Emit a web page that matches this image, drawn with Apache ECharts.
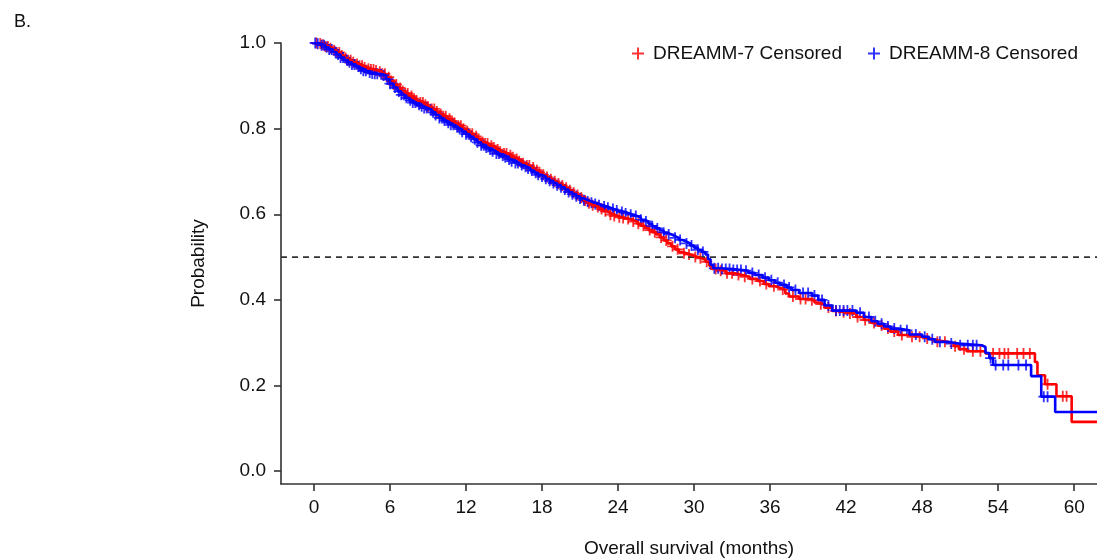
<!DOCTYPE html>
<html>
<head>
<meta charset="utf-8">
<script src="https://cdn.jsdelivr.net/npm/echarts@6/dist/echarts.min.js"></script>
<style>html,body{margin:0;padding:0;background:#fff}#c{width:1097px;height:560px}</style>
</head>
<body>
<div id="c"></div>
<script>
// Kaplan-Meier step points [month, survival]
var kmD7 = [
[0,1.0],[0.3,0.999],[0.6,0.996],[0.9,0.992],[1.2,0.988],[1.5,0.983],[1.8,0.978],[2.1,0.971],[2.4,0.965],[2.7,0.96],
[3.0,0.955],[3.3,0.951],[3.6,0.947],[3.9,0.943],[4.2,0.94],[4.5,0.938],[4.8,0.936],[5.1,0.933],[5.4,0.928],[5.7,0.92],
[6.0,0.911],[6.3,0.903],[6.6,0.895],[6.9,0.888],[7.2,0.882],[7.5,0.876],[7.8,0.870],[8.1,0.865],[8.4,0.861],[8.7,0.856],
[9.0,0.851],[9.3,0.846],[9.6,0.84],[9.9,0.834],[10.2,0.829],[10.5,0.823],[10.8,0.818],[11.1,0.813],[11.4,0.807],[11.7,0.80],
[12.0,0.794],[12.3,0.788],[12.6,0.782],[12.9,0.776],[13.2,0.769],[13.5,0.765],[13.8,0.76],[14.1,0.756],[14.4,0.751],[14.7,0.746],
[15.0,0.742],[15.3,0.738],[15.6,0.733],[15.9,0.729],[16.2,0.724],[16.5,0.719],[16.8,0.714],[17.1,0.709],[17.4,0.703],[17.7,0.698],
[18.0,0.692],[18.3,0.687],[18.6,0.682],[18.9,0.677],[19.2,0.672],[19.5,0.667],[19.8,0.662],[20.1,0.656],[20.4,0.65],[20.7,0.645],
[21.0,0.639],[21.3,0.632],[21.6,0.626],[21.9,0.621],[22.2,0.617],[22.5,0.612],[22.8,0.607],[23.1,0.603],[23.4,0.599],[23.7,0.596],
[24.0,0.593],[24.3,0.591],[24.6,0.589],[24.9,0.586],[25.2,0.583],[25.5,0.578],[25.8,0.573],[26.1,0.568],[26.4,0.563],[26.7,0.558],
[27.0,0.553],[27.3,0.546],[27.6,0.539],[27.9,0.532],[28.2,0.525],[28.5,0.518],[28.8,0.512],[29.1,0.509],[29.4,0.506],[29.7,0.503],
[30.0,0.50],[30.3,0.497],[30.6,0.494],[30.9,0.489],[31.2,0.48],[31.4,0.472],[31.8,0.468],[32.5,0.462],[33.2,0.458],[33.8,0.454],
[34.4,0.449],[35.0,0.444],[35.5,0.437],[35.9,0.432],[36.4,0.428],[36.8,0.424],[37.2,0.415],[37.5,0.408],[38.3,0.402],[39.2,0.399],
[39.5,0.394],[39.8,0.39],[40.3,0.382],[40.9,0.374],[41.4,0.371],[42.0,0.368],[42.8,0.36],[43.4,0.353],[44.0,0.346],[44.5,0.34],
[45.0,0.333],[45.5,0.326],[46.1,0.318],[47.0,0.314],[48.0,0.31],[48.6,0.306],[49.0,0.302],[50.0,0.298],[50.5,0.292],[50.9,0.285],
[51.5,0.28],[53.0,0.275],[56.9,0.255],[57.1,0.224],[57.7,0.203],[58.6,0.175],[59.8,0.115],[61.8,0.115]
];
var kmD8 = [
[0,1.0],[0.3,0.998],[0.6,0.995],[0.9,0.99],[1.2,0.985],[1.5,0.979],[1.8,0.973],[2.1,0.966],[2.4,0.96],[2.7,0.955],
[3.0,0.95],[3.3,0.945],[3.6,0.94],[3.9,0.935],[4.2,0.931],[4.5,0.929],[4.8,0.928],[5.1,0.927],[5.4,0.924],[5.7,0.915],
[6.0,0.905],[6.3,0.896],[6.6,0.887],[6.9,0.879],[7.2,0.872],[7.5,0.866],[7.8,0.861],[8.1,0.856],[8.4,0.852],[8.7,0.848],
[9.0,0.844],[9.3,0.838],[9.6,0.832],[9.9,0.825],[10.2,0.819],[10.5,0.814],[10.8,0.809],[11.1,0.804],[11.4,0.799],[11.7,0.793],
[12.0,0.787],[12.3,0.781],[12.6,0.775],[12.9,0.768],[13.2,0.761],[13.5,0.756],[13.8,0.751],[14.1,0.747],[14.4,0.742],[14.7,0.737],
[15.0,0.733],[15.3,0.728],[15.6,0.724],[15.9,0.72],[16.2,0.715],[16.5,0.711],[16.8,0.707],[17.1,0.702],[17.4,0.697],[17.7,0.692],
[18.0,0.688],[18.3,0.683],[18.6,0.678],[18.9,0.673],[19.2,0.668],[19.5,0.663],[19.8,0.658],[20.1,0.652],[20.4,0.647],[20.7,0.642],
[21.0,0.637],[21.3,0.633],[21.6,0.63],[21.9,0.627],[22.2,0.624],[22.5,0.621],[22.8,0.618],[23.1,0.615],[23.4,0.612],[23.7,0.609],
[24.0,0.607],[24.3,0.605],[24.6,0.602],[24.9,0.599],[25.2,0.596],[25.5,0.592],[25.8,0.587],[26.1,0.583],[26.4,0.578],[26.7,0.572],
[27.0,0.567],[27.3,0.562],[27.6,0.557],[27.9,0.553],[28.2,0.549],[28.5,0.545],[28.8,0.54],[29.1,0.536],[29.4,0.532],[29.7,0.527],
[30.0,0.522],[30.3,0.517],[30.6,0.512],[30.9,0.506],[31.1,0.495],[31.3,0.482],[31.5,0.474],[32.0,0.472],[33.0,0.470],[33.8,0.468],
[34.3,0.463],[34.8,0.458],[35.4,0.452],[35.9,0.446],[36.4,0.440],[36.8,0.435],[37.3,0.429],[37.7,0.423],[38.3,0.416],[39.3,0.41],
[39.8,0.40],[40.3,0.387],[40.9,0.375],[42.8,0.37],[43.4,0.36],[44.0,0.35],[44.5,0.344],[45.0,0.338],[45.5,0.333],[46.1,0.329],
[47.0,0.319],[48.0,0.314],[48.5,0.308],[49.0,0.302],[50.0,0.298],[50.9,0.294],[52.7,0.29],[53.0,0.276],[53.3,0.264],[53.6,0.248],
[56.6,0.222],[57.4,0.174],[58.5,0.138],[61.8,0.138]
];
// censoring times (months)
var censD7 = [0.2,0.5,0.7,0.9,1.1,1.3,1.6,1.8,2.0,2.2,2.5,2.7,2.9,3.1,3.4,3.6,3.8,4.0,4.3,4.5,4.7,4.9,5.2,5.4,5.6,5.9,6.1,6.3,6.5,6.8,
7.0,7.2,7.4,7.7,7.9,8.1,8.4,8.6,8.8,9.0,9.3,9.5,9.7,10.0,10.2,10.4,10.7,10.9,11.1,11.4,11.6,11.8,12.1,12.3,12.5,12.8,13.0,13.3,13.5,13.7,
14.0,14.2,14.5,14.7,15.0,15.2,15.5,15.7,16.0,16.2,16.5,16.8,17.0,17.3,17.6,17.8,18.1,18.4,18.7,19.0,19.3,19.6,19.9,20.2,20.5,20.8,21.1,21.4,21.7,22.0,
22.4,22.7,23.0,23.4,23.7,24.1,24.4,24.8,25.2,25.6,26.0,26.5,26.9,27.4,27.8,28.3,28.7,29.2,29.6,30.1,30.5,31.0,31.7,32.1,32.6,33.0,33.5,34.0,34.6,35.2,
35.7,36.3,37.0,37.8,38.4,38.8,39.3,40.0,40.6,41.2,41.8,42.3,42.9,43.5,44.2,44.8,45.3,45.8,46.4,47.2,47.8,48.4,49.2,49.8,50.6,51.3,52.0,52.6,53.6,54.1,
54.5,54.8,55.5,56.0,56.5,57.9,59.1,59.4];
var censD8 = [0.1,0.3,0.6,0.8,1.0,1.2,1.4,1.7,1.9,2.1,2.3,2.6,2.8,3.0,3.2,3.5,3.7,3.9,4.1,4.4,4.6,4.8,5.0,5.3,5.5,5.8,6.0,6.2,6.4,6.7,
6.9,7.1,7.3,7.6,7.8,8.0,8.3,8.5,8.7,8.9,9.2,9.4,9.6,9.9,10.1,10.3,10.6,10.8,11.0,11.3,11.5,11.7,12.0,12.2,12.4,12.7,12.9,13.2,13.4,13.6,
13.9,14.1,14.4,14.6,14.9,15.1,15.4,15.6,15.9,16.1,16.4,16.7,16.9,17.2,17.5,17.7,18.0,18.3,18.6,18.9,19.2,19.5,19.8,20.1,20.4,20.7,21.0,21.3,21.6,21.9,
22.2,22.5,22.9,23.2,23.6,23.9,24.3,24.6,25.0,25.4,25.8,26.2,26.7,27.1,27.6,28.0,28.5,28.9,29.4,29.8,30.3,30.7,31.6,31.9,32.2,32.5,32.8,33.1,33.4,33.7,
34.1,34.6,35.1,35.6,36.1,36.6,37.1,37.5,38.0,38.6,39.0,39.5,40.1,40.6,41.2,41.5,41.8,42.1,42.5,43.1,43.8,44.3,44.8,45.3,45.8,46.3,46.8,47.5,48.2,48.8,
49.4,50.3,51.0,51.6,52.0,52.3,53.4,53.8,54.4,54.8,55.6,56.2,57.6,57.9];
var medianLine = [[-2.6,0.5],[61.8,0.5]];
var xTicks = [0,6,12,18,24,30,36,42,48,54,60];
var yTicks = [0,0.2,0.4,0.6,0.8,1.0];

function stepLookup(km, t){
  var s = km[0][1];
  for (var i=0;i<km.length;i++){ if (km[i][0] <= t) s = km[i][1]; else break; }
  return s;
}
function censorPoints(km, times){ return times.map(function(t){ return [t, stepLookup(km,t)]; }); }

var plus = 'path://M-1,-6L1,-6L1,-1L6,-1L6,1L1,1L1,6L-1,6L-1,1L-6,1L-6,-1L-1,-1Z';
var FONT = '"Liberation Sans", Arial, sans-serif';
var TXT = '#111';
var chart = echarts.init(document.getElementById('c'), null, {renderer:'canvas'});
chart.setOption({
  animation:false,
  backgroundColor:'#fff',
  textStyle:{fontFamily:FONT},
  title:{text:'B.', left:9, top:8, textStyle:{fontSize:18, fontWeight:'normal', color:TXT, fontFamily:FONT}},
  legend:{
    right:14, top:39, itemGap:26, itemWidth:12, itemHeight:12,
    textStyle:{fontSize:19, color:TXT, fontFamily:FONT, padding:[0,0,0,4]},
    data:['DREAMM-7 Censored','DREAMM-8 Censored']
  },
  grid:{left:281, top:43, right:0, bottom:76, containLabel:false, outerBoundsMode:'none'},
  xAxis:{
    type:'value', min:-2.6, max:61.8,
    name:'Overall survival (months)', nameLocation:'middle', nameGap:55,
    nameTextStyle:{fontSize:19, color:TXT, fontFamily:FONT},
    axisLine:{show:true, onZero:false, lineStyle:{color:'#333', width:1.6}},
    axisTick:{show:true, length:7, lineStyle:{color:'#333', width:1.6}, customValues:xTicks},
    axisLabel:{fontSize:19, color:TXT, margin:14, customValues:xTicks, fontFamily:FONT},
    splitLine:{show:false}
  },
  yAxis:{
    type:'value', min:-0.03, max:1.0,
    name:'Probability', nameLocation:'middle', nameGap:73, nameRotate:90,
    nameTextStyle:{fontSize:19, color:TXT, fontFamily:FONT},
    axisLine:{show:true, onZero:false, lineStyle:{color:'#333', width:1.6}},
    axisTick:{show:true, length:7, lineStyle:{color:'#333', width:1.6}, customValues:yTicks},
    axisLabel:{fontSize:19, color:TXT, margin:15, customValues:yTicks, fontFamily:FONT,
      formatter:function(v){ return v.toFixed(1); }},
    splitLine:{show:false}
  },
  series:[
    {name:'median', type:'line', data:medianLine, showSymbol:false, silent:true,
      lineStyle:{color:'#333', width:1.6, type:[6,5]}},
    {name:'DREAMM-7', type:'line', step:'end', data:kmD7, showSymbol:false,
      lineStyle:{color:'#ff0000', width:2.6}},
    {name:'DREAMM-7 Censored', type:'scatter', data:censorPoints(kmD7, censD7),
      symbol:plus, symbolSize:11, itemStyle:{color:'#ff0000'}},
    {name:'DREAMM-8', type:'line', step:'end', data:kmD8, showSymbol:false,
      lineStyle:{color:'#0000ff', width:2.6}},
    {name:'DREAMM-8 Censored', type:'scatter', data:censorPoints(kmD8, censD8),
      symbol:plus, symbolSize:11, itemStyle:{color:'#0000ff'}}
  ]
});
</script>
</body>
</html>
